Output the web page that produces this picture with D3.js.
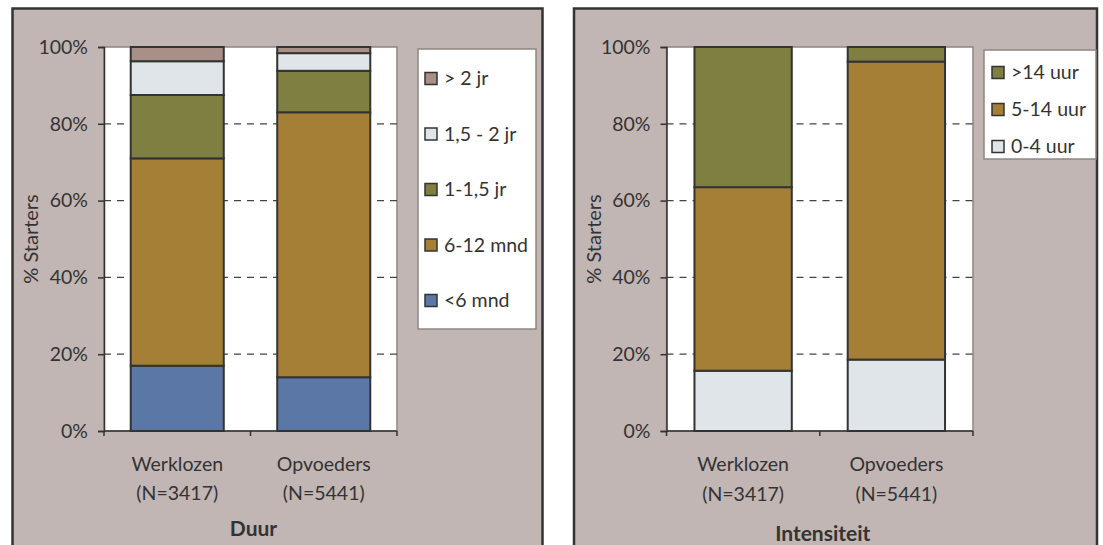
<!DOCTYPE html>
<html>
<head>
<meta charset="utf-8">
<script src="https://cdn.jsdelivr.net/npm/d3@7/dist/d3.min.js"></script>
<style>
  html, body { margin: 0; padding: 0; background: #ffffff; }
  svg { display: block; }
  text { font-family: Lato, "Open Sans", sans-serif; fill: #333333; }
</style>
</head>
<body>
<svg id="chart" width="1103" height="545"></svg>
<script>
// ---- data ----
const categories = ["Werklozen", "Opvoeders"];
const categoryN = ["(N=3417)", "(N=5441)"];
const yTicks = [0, 20, 40, 60, 80, 100];
const gridTicks = [20, 40, 60, 80];

const duurSeries = ["<6 mnd", "6-12 mnd", "1-1,5 jr", "1,5 - 2 jr", "> 2 jr"];
const duurWerklozen = [17.0, 54.0, 16.5, 8.8, 3.7];
const duurOpvoeders = [14.0, 69.0, 10.8, 4.6, 1.6];
const duurColors = ["#5B77A6", "#A67F37", "#7E7F40", "#E0E5E9", "#A88F87"];

const intSeries = ["0-4 uur", "5-14 uur", ">14 uur"];
const intWerklozen = [15.7, 47.8, 36.5];
const intOpvoeders = [18.6, 77.6, 3.8];
const intColors = ["#E0E5E9", "#A67F37", "#7E7F40"];

const svg = d3.select("#chart");
const FS = 19.5;

function drawPanel(cfg) {
  const g = svg.append("g");
  // panel background
  g.append("rect")
    .attr("x", cfg.panel[0]).attr("y", cfg.panel[1])
    .attr("width", cfg.panel[2]).attr("height", cfg.panel[3])
    .attr("fill", "#C1B6B3").attr("stroke", "#333333").attr("stroke-width", 2.5);

  const x = d3.scaleBand().domain(categories)
    .range([cfg.plot.left, cfg.plot.right])
    .paddingInner(0.365).paddingOuter(0.1825);
  const y = d3.scaleLinear().domain([0, 100]).range([cfg.plot.bottom, cfg.plot.top]);

  // plot area
  g.append("rect")
    .attr("x", cfg.plot.left).attr("y", cfg.plot.top)
    .attr("width", cfg.plot.right - cfg.plot.left)
    .attr("height", cfg.plot.bottom - cfg.plot.top)
    .attr("fill", "#ffffff").attr("stroke", "#8E8683").attr("stroke-width", 1.5);

  // gridlines
  g.selectAll(".grid").data(gridTicks).enter().append("line")
    .attr("x1", cfg.plot.left).attr("x2", cfg.plot.right)
    .attr("y1", d => y(d)).attr("y2", d => y(d))
    .attr("stroke", "#444444").attr("stroke-width", 1.2)
    .attr("stroke-dasharray", "7,6");

  // stacked bars
  const rows = categories.map((c, i) => {
    const o = { cat: c };
    cfg.series.forEach((s, j) => { o[s] = cfg.values[i][j]; });
    return o;
  });
  const stack = d3.stack().keys(cfg.series)(rows);
  stack.forEach((layer, j) => {
    g.selectAll(null).data(layer).enter().append("rect")
      .attr("x", d => x(d.data.cat))
      .attr("width", x.bandwidth())
      .attr("y", d => y(d[1]))
      .attr("height", d => y(d[0]) - y(d[1]))
      .attr("fill", cfg.colors[j])
      .attr("stroke", "#333333").attr("stroke-width", 2);
  });

  // y axis
  const yAxis = d3.axisLeft(y).tickValues(yTicks).tickFormat(d => d + "%")
    .tickSize(6).tickPadding(10);
  const ya = g.append("g").attr("transform", `translate(${cfg.plot.left},0)`).call(yAxis);
  ya.select(".domain").attr("stroke", "#333333").attr("stroke-width", 1.5);
  ya.selectAll(".tick line").attr("stroke", "#333333").attr("stroke-width", 1.5);
  ya.selectAll(".tick text").attr("font-size", FS).attr("fill", "#333333");

  // x axis line with boundary ticks
  const xa = g.append("g");
  xa.append("line")
    .attr("x1", cfg.plot.left).attr("x2", cfg.plot.right)
    .attr("y1", cfg.plot.bottom).attr("y2", cfg.plot.bottom)
    .attr("stroke", "#333333").attr("stroke-width", 1.5);
  const bounds = [cfg.plot.left, x(categories[1]) - x.step() * x.paddingInner() / 2, cfg.plot.right];
  xa.selectAll(null).data(bounds).enter().append("line")
    .attr("x1", d => d).attr("x2", d => d)
    .attr("y1", cfg.plot.bottom).attr("y2", cfg.plot.bottom + 5)
    .attr("stroke", "#333333").attr("stroke-width", 1.5);

  // category labels
  categories.forEach((c, i) => {
    const cx = x(c) + x.bandwidth() / 2;
    g.append("text").attr("x", cx).attr("y", cfg.catY[0])
      .attr("text-anchor", "middle").attr("font-size", FS).text(c);
    g.append("text").attr("x", cx).attr("y", cfg.catY[1])
      .attr("text-anchor", "middle").attr("font-size", FS).text(categoryN[i]);
  });

  // x title
  g.append("text").attr("x", (cfg.plot.left + cfg.plot.right) / 2 + 3).attr("y", cfg.titleY)
    .attr("text-anchor", "middle").attr("font-size", 21).attr("font-weight", "bold")
    .text(cfg.title);

  // y title
  g.append("text")
    .attr("transform", `translate(${cfg.yTitleX},${(cfg.plot.top + cfg.plot.bottom) / 2}) rotate(-90)`)
    .attr("text-anchor", "middle").attr("font-size", 20).text("% Starters");

  // legend
  const L = cfg.legend;
  g.append("rect").attr("x", L.x).attr("y", L.y).attr("width", L.w).attr("height", L.h)
    .attr("fill", "#ffffff").attr("stroke", "#8E8683").attr("stroke-width", 1.5);
  const order = cfg.series.map((s, j) => j).reverse();
  order.forEach((j, k) => {
    const cy = L.firstY + k * L.step;
    g.append("rect").attr("x", L.x + L.swX).attr("y", cy - 6).attr("width", 12).attr("height", 12)
      .attr("fill", cfg.colors[j]).attr("stroke", "#333333").attr("stroke-width", 1.5);
    g.append("text").attr("x", L.x + L.txX).attr("y", cy).attr("dy", "0.35em")
      .attr("font-size", FS).text(cfg.series[j]);
  });
}

drawPanel({
  panel: [12.5, 8.5, 530, 600],
  plot: { left: 104, right: 397, top: 47, bottom: 431 },
  series: duurSeries,
  values: [duurWerklozen, duurOpvoeders],
  colors: duurColors,
  catY: [471, 500],
  titleY: 536,
  title: "Duur",
  yTitleX: 38,
  legend: { x: 418, y: 49, w: 118, h: 280, firstY: 78.5, step: 55.5, swX: 7, txX: 26 }
});

drawPanel({
  panel: [574, 8.5, 523, 600],
  plot: { left: 666.5, right: 973, top: 47, bottom: 431 },
  series: intSeries,
  values: [intWerklozen, intOpvoeders],
  colors: intColors,
  catY: [471, 501],
  titleY: 541,
  title: "Intensiteit",
  yTitleX: 601,
  legend: { x: 984, y: 50, w: 112, h: 109, firstY: 72.5, step: 37, swX: 8, txX: 27 }
});
</script>
</body>
</html>
